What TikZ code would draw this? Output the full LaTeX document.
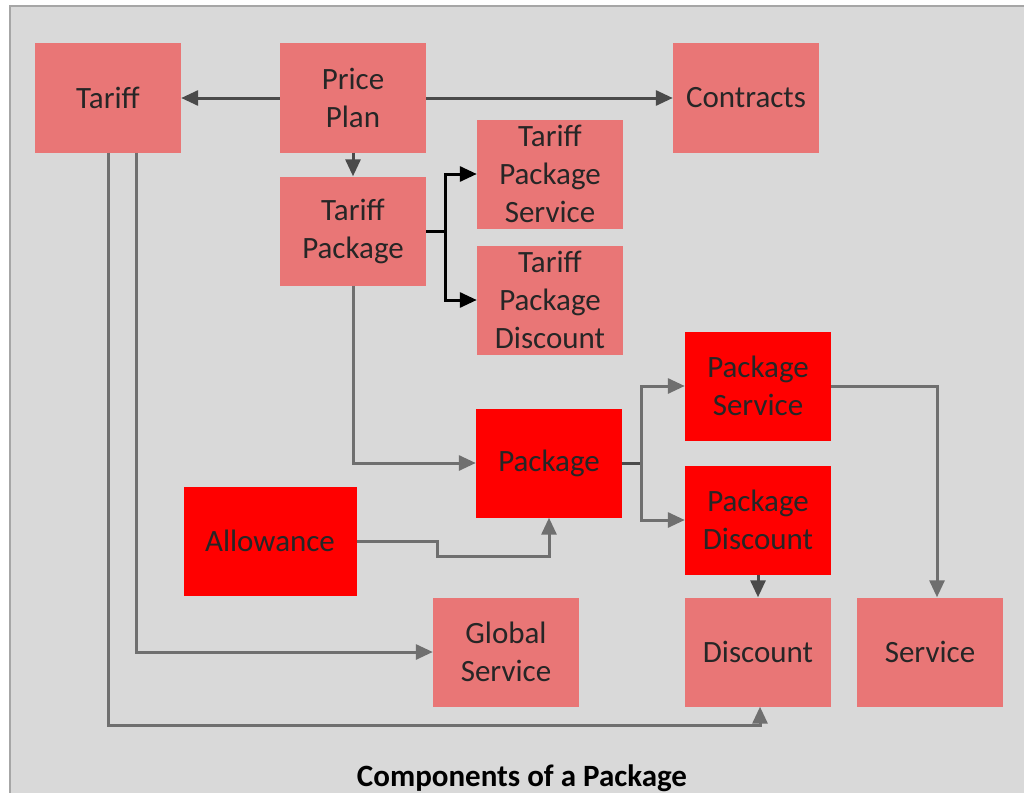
\documentclass[tikz,border=0pt]{standalone}
\usepackage{fontspec}
\setmainfont{Carlito}
\usetikzlibrary{arrows.meta,calc}
\definecolor{bg}{HTML}{D9D9D9}
\definecolor{frame}{HTML}{A6A6A6}
\definecolor{lightred}{HTML}{E97676}
\definecolor{strongred}{HTML}{FF0000}
\definecolor{lineg}{HTML}{6F6F6F}
\definecolor{lined}{HTML}{4A4A4A}
\tikzset{
  box/.style={fill=lightred, minimum width=146pt, minimum height=109pt, inner sep=0pt, align=center, text=black!85, font=\fontsize{31}{38}\selectfont},
  redbox/.style={box, fill=strongred},
  conn/.style={draw=lineg, line width=3pt, -{Triangle[length=17pt,width=15pt]}},
  dconn/.style={conn, draw=lined},
  bconn/.style={draw=black, line width=3pt, -{Triangle[length=17pt,width=15pt]}}
}
\begin{document}
\begin{tikzpicture}[x=1pt,y=-1pt]
\useasboundingbox (0,0) rectangle (1024,792);
\fill[white] (0,0) rectangle (1024,792);
\filldraw[fill=bg, draw=frame, line width=2pt] (10,6) rectangle (1040,810);

\node[box] (tariff) at (108,98) {Tariff};
\node[box] (pp) at (353,98) {Price\\Plan};
\node[box] (contracts) at (746,98) {Contracts};
\node[box] (tp) at (353,231) {Tariff\\Package};
\node[box] (tps) at (550,174) {Tariff\\Package\\Service};
\node[box] (tpd) at (550,300) {Tariff\\Package\\Discount};
\node[redbox] (psvc) at (758,386) {Package\\Service};
\node[redbox] (pkg) at (549,463) {Package};
\node[redbox] (pdisc) at (758,520) {Package\\Discount};
\node[redbox, minimum width=173pt] (allow) at (270,541) {Allowance};
\node[box] (gs) at (506,652) {Global\\Service};
\node[box] (disc) at (758,652) {Discount};
\node[box] (svc) at (930,652) {Service};

\node[font=\bfseries\fontsize{31}{36}\selectfont, text=black] (title) at (522,778) {Components of a Package};

% top row
\draw[dconn] (pp.west) -- (tariff.east);
\draw[dconn] (pp.east) -- (contracts.west);
\draw[dconn] (pp.south) -- (tp.north);

% tariff package branches
\coordinate (tj) at ($(tp.east)+(19,0)$);
\draw[black, line width=3pt] (tp.east) -- (tj);
\draw[bconn] (tj) |- (tps.west);
\draw[bconn] (tj) |- (tpd.west);

% tariff package to package
\draw[conn] (tp.south) |- (pkg.west);

% allowance to package
\draw[conn] (allow.east) -| ++(81,15) -| (pkg.south);

% package branches
\coordinate (pj) at ($(pkg.east)+(19,0)$);
\draw[lined, line width=3pt] (pkg.east) -- (pj);
\draw[conn] (pj) |- (psvc.west);
\draw[conn] (pj) |- (pdisc.west);

% package service to service
\draw[conn] (psvc.east) -| ($(svc.north)+(7,0)$);

% package discount to discount
\draw[dconn] (pdisc.south) -- (disc.north);

% tariff down lines
\draw[conn] ($(tariff.south)+(28,0)$) |- (gs.west);
\draw[conn] (tariff.south) |- ($(disc.south)+(2,19)$) -- ($(disc.south)+(2,0)$);
\end{tikzpicture}
\end{document}
